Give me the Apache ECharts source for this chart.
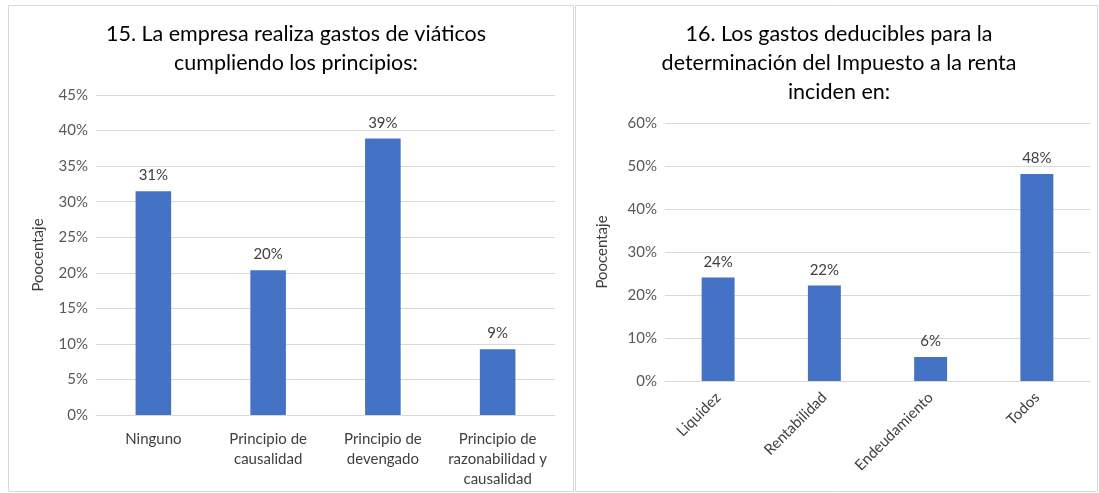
<!DOCTYPE html>
<html>
<head>
<meta charset="utf-8">
<script src="https://cdn.jsdelivr.net/npm/echarts@6/dist/echarts.min.js"></script>
<style>
html,body{margin:0;padding:0;background:#fff;}
#c{width:1099px;height:493px;}
</style>
</head>
<body>
<div id="c"></div>
<script>
// Chart 15
const title1 = "15. La empresa realiza gastos de viáticos\ncumpliendo los principios:";
const cats1 = ["Ninguno", "Principio de\ncausalidad", "Principio de\ndevengado", "Principio de\nrazonabilidad y\ncausalidad"];
const vals1 = [31.48, 20.37, 38.89, 9.26];
// Chart 16
const title2 = "16. Los gastos deducibles para la\ndeterminación del Impuesto a la renta\ninciden en:";
const cats2 = ["Liquidez", "Rentabilidad", "Endeudamiento", "Todos"];
const vals2 = [24.07, 22.22, 5.56, 48.15];
const yName = "Poocentaje";

const FONT = "Lato";
const chart = echarts.init(document.getElementById('c'), null, {renderer:'canvas'});
const axisCommon = {
  axisLine:{show:false}, axisTick:{show:false},
  splitLine:{lineStyle:{color:'#d9d9d9', width:1}},
  axisLabel:{color:'#595959', fontSize:15, fontFamily:FONT, formatter:'{value}%'},
  name: yName, nameLocation:'middle', nameRotate:90,
  nameTextStyle:{color:'#404040', fontSize:15, fontFamily:FONT}
};
const xCommon = {
  type:'category',
  axisLine:{show:true, lineStyle:{color:'#d9d9d9'}},
  axisTick:{show:false},
};
const lbl = {show:true, position:'top', distance:8, color:'#404040', fontSize:15, fontFamily:FONT,
  formatter: p => Math.round(p.value) + '%'};
chart.setOption({
  animation:false,
  graphic:[
    {type:'rect', shape:{x:8.5, y:5.5, width:565, height:486}, style:{fill:'none', stroke:'#d9d9d9', lineWidth:1}},
    {type:'rect', shape:{x:575.5, y:5.5, width:522, height:486}, style:{fill:'none', stroke:'#d9d9d9', lineWidth:1}}
  ],
  title:[
    {text:title1, left:291, top:15, textAlign:'center',
     textStyle:{fontFamily:FONT, fontWeight:'normal', fontSize:21.5, color:'#000', lineHeight:29}},
    {text:title2, left:834, top:15, textAlign:'center',
     textStyle:{fontFamily:FONT, fontWeight:'normal', fontSize:21.5, color:'#000', lineHeight:29}}
  ],
  grid:[
    {left:96, right:544, top:95, bottom:78},
    {left:665, right:9, top:123, bottom:112}
  ],
  xAxis:[
    Object.assign({gridIndex:0, data:cats1,
      axisLabel:{color:'#404040', fontSize:15, fontFamily:FONT, margin:14, lineHeight:20, interval:0}}, xCommon),
    Object.assign({gridIndex:1, data:cats2,
      axisLabel:{color:'#404040', fontSize:15, fontFamily:FONT, margin:14, rotate:45, interval:0}}, xCommon)
  ],
  yAxis:[
    Object.assign({gridIndex:0, type:'value', min:0, max:45, interval:5, nameGap:50}, axisCommon),
    Object.assign({gridIndex:1, type:'value', min:0, max:60, interval:10, nameGap:55}, axisCommon)
  ],
  series:[
    {type:'bar', xAxisIndex:0, yAxisIndex:0, data:vals1, barWidth:'31%', itemStyle:{color:'#4472c4'}, label:lbl},
    {type:'bar', xAxisIndex:1, yAxisIndex:1, data:vals2, barWidth:'31%', itemStyle:{color:'#4472c4'}, label:lbl}
  ]
});
</script>
</body>
</html>
